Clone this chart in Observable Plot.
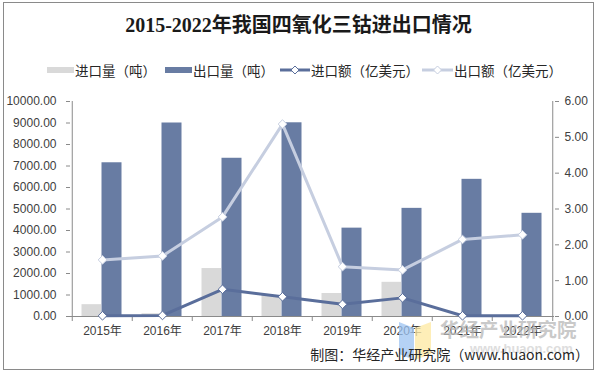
<!DOCTYPE html>
<html>
<head>
<meta charset="utf-8">
<script src="https://cdn.jsdelivr.net/npm/d3@7"></script>
<script src="https://cdn.jsdelivr.net/npm/@observablehq/plot@0.6"></script>
<style>
  body { margin: 0; background: #fff; }
  #wrap { position: relative; width: 597px; height: 375px; background: #fff; overflow: hidden;
          font-family: "Noto Sans CJK SC", "Liberation Sans", sans-serif; color: #262626; }
  #border { position: absolute; left: 3px; top: 2px; width: 589px; height: 366px; border: 1px solid #8a8a8a; }
  #title { position: absolute; left: 0; top: 13px; width: 597px; text-align: center;
           font-family: "Liberation Serif", "Noto Sans CJK SC", serif; font-weight: bold; font-size: 20px; line-height: 24px; color: #1a1a1a; }
  .lg { position: absolute; top: 62px; font-size: 13.5px; line-height: 16px; white-space: nowrap; color: #262626; }
  .sw { position: absolute; }
  #chart { position: absolute; left: 0; top: 87px; }
  #caption { position: absolute; right: 8px; top: 346px; font-size: 14px; line-height: 16px; white-space: nowrap; color: #262626; }
  #wm { position: absolute; left: 440px; top: 318px; font-size: 19.5px; line-height: 22px; color: #b8b8b8; opacity: 0.75; white-space: nowrap; font-weight: bold; }
  #wm2 { position: absolute; left: 470px; top: 342px; font-size: 13px; line-height: 14px; color: #c8c8c8; opacity: 0.6; white-space: nowrap; font-family: "Liberation Sans"; font-weight: bold; }
  #logo { position: absolute; left: 398px; top: 322px; }
</style>
</head>
<body>
<div id="wrap">
  <div id="border"></div>
  <div id="title">2015-2022年我国四氧化三钴进出口情况</div>
  <div id="legend"></div>
  <div id="chart"></div>
  <svg id="logo" width="34" height="38" viewBox="0 0 34 38">
    <polygon points="1,0 16,6 16,38 1,32" fill="#9cc3f2" opacity="0.75"/>
    <polygon points="17,6 33,0 33,32 17,38" fill="#fde8a0" opacity="0.75"/>
  </svg>
  <div id="wm">华经产业研究院</div>
  <div id="wm2">www.huaon.com</div>
  <div id="caption">制图：华经产业研究院（www.huaon.com）</div>
</div>
<script>
const years = ["2015年","2016年","2017年","2018年","2019年","2020年","2021年","2022年"];
const importVolume = [550, 125, 2230, 980, 1070, 1590, 10, 15];        // 进口量（吨）
const exportVolume = [7150, 9000, 7360, 9010, 4110, 5030, 6380, 4800]; // 出口量（吨）
const importValue = [0.02, 0.03, 0.76, 0.55, 0.34, 0.52, 0.02, 0.02];  // 进口额（亿美元）
const exportValue = [1.58, 1.69, 2.78, 5.37, 1.39, 1.30, 2.15, 2.28];  // 出口额（亿美元）
const leftTicks = [0,1000,2000,3000,4000,5000,6000,7000,8000,9000,10000];
const rightTicks = [0,1,2,3,4,5,6];
const seriesNames = ["进口量（吨）","出口量（吨）","进口额（亿美元）","出口额（亿美元）"];

const cImportBar = "#d9d9d9";
const cExportBar = "#687ca3";
const cImportLine = "#5a6e9b";
const cExportLine = "#c6cee0";
const axisColor = "#8a8a8a";
const textColor = "#404040";

const data = years.map((y, i) => ({
  year: y, iv: importVolume[i], ev: exportVolume[i], ia: importValue[i], ea: exportValue[i]
}));

const W = 597, H = 255, ML = 70, MR = 43, MT = 14, MB = 26;
const bw = (W - ML - MR) / years.length;
const k = 10000 / 6; // right axis mapped onto left scale

const chart = Plot.plot({
  width: W, height: H,
  marginLeft: ML, marginRight: MR, marginTop: MT, marginBottom: MB,
  style: { fontFamily: "'Liberation Sans', 'Noto Sans CJK SC', sans-serif", fontSize: "12px", color: textColor, background: "transparent", overflow: "visible" },
  x: { type: "band", domain: years, padding: 0, axis: null, label: null },
  y: { domain: [0, 10000], axis: null, label: null },
  marks: [
    Plot.barY(data, { x: "year", y: "iv", fill: cImportBar, insetLeft: 9.5, insetRight: 31 }),
    Plot.barY(data, { x: "year", y: "ev", fill: cExportBar, insetLeft: 29.5, insetRight: 10.5 }),
    Plot.ruleY([0], { stroke: axisColor }),
    Plot.ruleX([years[0]], { dx: -bw / 2, stroke: axisColor }),
    Plot.ruleX([years[years.length - 1]], { dx: bw / 2, stroke: axisColor }),
    Plot.axisY(leftTicks, { anchor: "left", label: null, tickFormat: d => d.toFixed(2), tickSize: 4, tickPadding: 10, stroke: axisColor, fill: textColor }),
    Plot.axisY(rightTicks.map(v => v * k), { anchor: "right", label: null, tickFormat: d => (d / k).toFixed(2), tickSize: 4, tickPadding: 6, stroke: axisColor, fill: textColor }),
    Plot.axisX({ label: null, tickSize: 0, tickPadding: 10, fill: textColor }),
    Plot.axisX(years, { label: null, text: null, tickSize: 5, dx: -bw / 2, stroke: axisColor }),
    Plot.axisX([years[years.length - 1]], { label: null, text: null, tickSize: 5, dx: bw / 2, stroke: axisColor }),
    Plot.line(data, { x: "year", y: d => d.ia * k, stroke: cImportLine, strokeWidth: 3, strokeLinejoin: "round" }),
    Plot.line(data, { x: "year", y: d => d.ea * k, stroke: cExportLine, strokeWidth: 3, strokeLinejoin: "round" }),
    Plot.dot(data, { x: "year", y: d => d.ia * k, symbol: "diamond2", r: 3.9, fill: "white", stroke: cImportLine, strokeWidth: 1 }),
    Plot.dot(data, { x: "year", y: d => d.ea * k, symbol: "diamond2", r: 3.9, fill: "white", stroke: cExportLine, strokeWidth: 1 })
  ]
});
document.getElementById("chart").appendChild(chart);

// Legend
const legend = document.getElementById("legend");
const items = [
  { x: 47, w: 27, type: "bar", color: cImportBar, label: seriesNames[0] },
  { x: 165, w: 27, type: "bar", color: cExportBar, label: seriesNames[1] },
  { x: 280, w: 30, type: "line", color: cImportLine, label: seriesNames[2] },
  { x: 422, w: 31, type: "line", color: cExportLine, label: seriesNames[3] }
];
items.forEach(it => {
  const sw = document.createElementNS("http://www.w3.org/2000/svg", "svg");
  sw.setAttribute("width", it.w); sw.setAttribute("height", 12);
  sw.setAttribute("class", "sw");
  sw.style.left = it.x + "px"; sw.style.top = "64px"; sw.style.position = "absolute";
  if (it.type === "bar") {
    sw.innerHTML = `<rect x="0" y="3" width="${it.w}" height="6" fill="${it.color}"/>`;
  } else {
    const c = it.w / 2;
    sw.innerHTML = `<line x1="0" y1="6" x2="${it.w}" y2="6" stroke="${it.color}" stroke-width="3"/>` +
      `<path d="M${c},2 L${c+4},6 L${c},10 L${c-4},6 Z" fill="white" stroke="${it.color}" stroke-width="1"/>`;
  }
  legend.appendChild(sw);
  const t = document.createElement("div");
  t.className = "lg";
  t.style.left = (it.x + it.w + 1) + "px";
  t.textContent = it.label;
  legend.appendChild(t);
});
</script>
</body>
</html>
